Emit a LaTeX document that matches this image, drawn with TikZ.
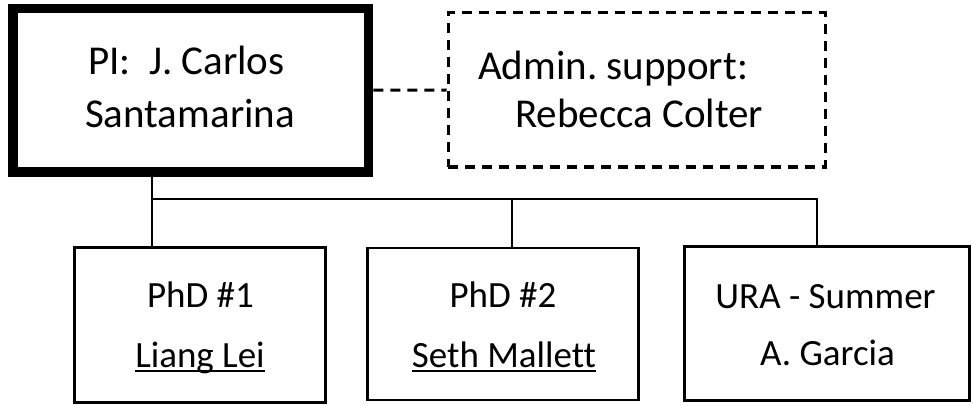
\documentclass[tikz,border=0pt]{standalone}
\usepackage{fontspec}
\setmainfont[Ligatures=NoCommon]{Carlito}
\frenchspacing
\begin{document}
\begin{tikzpicture}[x=1pt,y=-1pt,
  box/.style={draw, rectangle, line width=2.6pt, inner sep=0pt},
  pibox/.style={box, line width=9.5pt},
  adminbox/.style={box, line width=3pt, dash pattern=on 10pt off 7pt},
  lbl/.style={inner sep=0pt, anchor=base, font=\fontsize{37}{44}\selectfont},
  lblbig/.style={lbl, font=\fontsize{41}{48}\selectfont},
  lblw/.style={lblbig, anchor=base west},
  wire/.style={line width=2.6pt},
  dashwire/.style={line width=3pt, dash pattern=on 10pt off 7pt},
  uline/.style={line width=2.6pt}]
\useasboundingbox (0,0) rectangle (973,406);
% boxes
\node[pibox, minimum width=355.5pt, minimum height=163.5pt] (pi) at (190.75,90.25) {};
\node[adminbox, minimum width=377pt, minimum height=154pt] (admin) at (636.5,90) {};
\node[box, minimum width=251pt, minimum height=155pt] (b1) at (200,325) {};
\node[box, minimum width=271pt, minimum height=152pt] (b2) at (503,324) {};
\node[box, minimum width=285pt, minimum height=154pt] (b3) at (827,323.5) {};
% texts
\node[lblbig] (pi1) at (186.5,75) {PI:\ \ J. Carlos};
\node[lblbig] (pi2) at (190,128) {Santamarina};
\node[lblw] (ad1) at (478,80) {Admin. support:};
\node[lblw] (ad2) at (515,128) {Rebecca Colter};
\node[lbl] (t1a) at (200.5,307) {PhD \#1};
\node[lbl] (t1b) at (200,367) {Liang Lei};
\node[lbl] (t2a) at (503,307) {PhD \#2};
\node[lbl] (t2b) at (504,367) {Seth Mallett};
\node[lbl] (t3a) at (825.5,308) {URA - Summer};
\node[lbl] (t3b) at (827.5,365) {A. Garcia};
% underlines
\draw[uline] ([yshift=-4pt]t1b.base west) -- ([yshift=-4pt]t1b.base east);
\draw[uline] ([yshift=-4pt]t2b.base west) -- ([yshift=-4pt]t2b.base east);
% connectors
\coordinate (j1) at (152,199);
\coordinate (j2) at (512,199);
\coordinate (j3) at (817,199);
\draw[dashwire] (pi.east) -- (admin.west);
\draw[wire] (pi.south -| j1) -- (b1.north -| j1);
\draw[wire] (j1) -- (j3) -- (b3.north -| j3);
\draw[wire] (j2) -- (b2.north -| j2);
\end{tikzpicture}
\end{document}
